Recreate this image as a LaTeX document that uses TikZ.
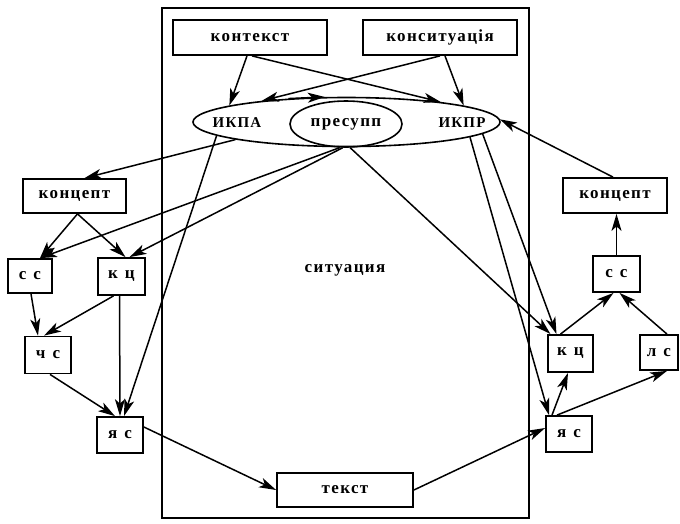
\documentclass[tikz,border=0pt]{standalone}
\usepackage{fontspec}
\setmainfont{Liberation Serif}[LetterSpace=8]
\usetikzlibrary{arrows.meta,shapes.geometric}

\newcommand{\gap}{\hspace{7pt}}

\tikzset{
  lbl/.style={font=\fontsize{17}{19}\selectfont\bfseries},
  caps/.style={font=\fontsize{15}{17}\selectfont\bfseries},
  box/.style={draw, line width=1.8pt, inner sep=0pt, lbl},
  oval/.style={ellipse, draw, line width=1.6pt, inner sep=0pt},
  frame/.style={draw, line width=2pt, inner sep=0pt},
  arr/.style={line width=1.5pt, -{Stealth[length=17pt,width=10pt,inset=4.5pt]}},
}

\begin{document}
\begin{tikzpicture}[x=1pt,y=-1pt]
\useasboundingbox (0,0) rectangle (680,523);

% situation frame
\node[frame, minimum width=367pt, minimum height=510pt] (frame) at (345.5,263) {};
\node[lbl] (sitlabel) at (345,270) {ситуация};

% top sources
\node[box, minimum width=154pt, minimum height=35pt] (kontekst) at (250,37.5) {контекст};
\node[box, minimum width=154pt, minimum height=35pt] (konsit) at (440,37.5) {конситуація};

% the two world pictures and presupposition
\node[oval, minimum width=307pt, minimum height=49pt] (outer) at (346.5,122) {};
\node[oval, minimum width=112pt, minimum height=46pt, lbl] (presupp) at (346,124) {пресупп};
\node[caps] (ikpa) at (237,123) {ИКПА};
\node[caps] (ikpr) at (462,123) {ИКПР};

% left chain
\node[box, minimum width=103pt, minimum height=34pt] (lkon) at (74.5,196) {концепт};
\node[box, minimum width=44pt, minimum height=34pt] (lss) at (30,276) {с\gap с};
\node[box, minimum width=47pt, minimum height=37pt] (lkc) at (121.5,276.5) {к\gap ц};
\node[box, minimum width=46pt, minimum height=37pt] (lcs) at (48,355) {ч\gap с};
\node[box, minimum width=46pt, minimum height=36pt] (lys) at (120,435) {я\gap с};

% text
\node[box, minimum width=136pt, minimum height=34pt] (tekst) at (345,490) {текст};

% right chain
\node[box, minimum width=104pt, minimum height=35pt] (rkon) at (615,195.5) {концепт};
\node[box, minimum width=47pt, minimum height=36pt] (rss) at (616.5,274) {с\gap с};
\node[box, minimum width=45pt, minimum height=37pt] (rkc) at (570.5,353.5) {к\gap ц};
\node[box, minimum width=38pt, minimum height=35pt] (rls) at (659,352.5) {л\gap с};
\node[box, minimum width=46pt, minimum height=36pt] (rys) at (569,434) {я\gap с};

% context and consituation feed both pictures
\draw[arr] ([xshift=-3pt]kontekst.south) -- (outer.172);
\draw[arr] ([xshift=2pt]kontekst.south) -- (outer.12);
\draw[arr] ([xshift=5pt]konsit.south) -- (outer.8);
\draw[arr] (konsit.south) -- (outer.166);
\draw[arr] (outer.158) -- (outer.131);

% author side
\draw[arr] (outer.189) -- ([xshift=10pt]lkon.north);
\draw[arr] (outer.186) -- ([xshift=4pt]lys.north);
\draw[arr] (presupp.255) -- ([xshift=10pt]lss.north);
\draw[arr] (presupp.262) -- ([xshift=8pt]lkc.north);
\draw[arr] ([xshift=3pt]lkon.south) -- ([xshift=10pt]lss.north);
\draw[arr] ([xshift=3pt]lkon.south) -- ([xshift=4pt]lkc.north);
\draw[arr] ([xshift=1pt]lss.south) -- ([xshift=-10pt]lcs.north);
\draw[arr] ([xshift=-8pt]lkc.south) -- ([xshift=-4pt]lcs.north);
\draw[arr] ([xshift=-2pt]lkc.south) -- (lys.north);
\draw[arr] ([xshift=2pt]lcs.south) -- ([xshift=-5pt]lys.north);
\draw[arr] ([yshift=8pt]lys.east) -- (tekst.west);

% recipient side
\draw[arr] (tekst.east) -- ([yshift=6pt]rys.west);
\draw[arr] ([xshift=-17pt]rys.north) -- ([xshift=-2.5pt]rkc.south);
\draw[arr] ([xshift=-12pt]rys.north) -- ([xshift=8pt]rls.south);
\draw[arr] ([xshift=-10pt]rkc.north) -- ([xshift=-3pt]rss.south);
\draw[arr] ([xshift=8pt]rls.north) -- ([xshift=3pt]rss.south);
\draw[arr] (rss.north) -- (rss.north |- rkon.south);
\draw[arr] ([xshift=-2pt]rkon.north) -- (outer.1);
\draw[arr] (presupp.280) -- ([xshift=-20pt]rkc.north);
\draw[arr] (outer.355) -- ([xshift=-14pt]rkc.north);
\draw[arr] (outer.353) -- ([xshift=-20pt]rys.north);
\end{tikzpicture}
\end{document}
